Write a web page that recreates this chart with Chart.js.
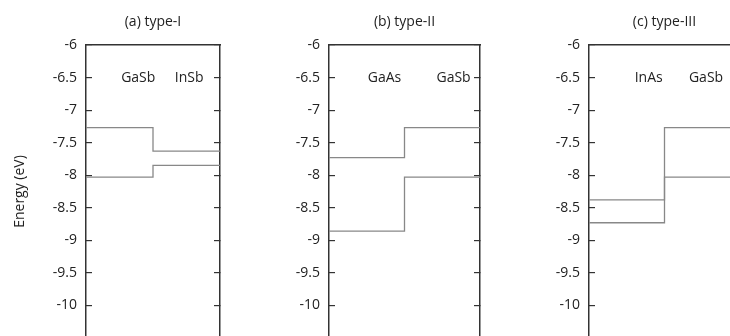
<!DOCTYPE html>
<html>
<head>
<meta charset="utf-8">
<script src="https://cdn.jsdelivr.net/npm/chart.js@4/dist/chart.umd.min.js"></script>
<style>
  html, body { margin: 0; padding: 0; background: #fff; }
  body { width: 730px; height: 336px; overflow: hidden; position: relative; }
  canvas { position: absolute; top: 0; }
</style>
</head>
<body>
<canvas id="panelA"></canvas>
<canvas id="panelB"></canvas>
<canvas id="panelC"></canvas>
<script>
'use strict';

// band edges (eV)
const panelTitles = ['(a) type-I', '(b) type-II', '(c) type-III'];
const leftMaterial = ['GaSb', 'GaAs', 'InAs'];
const rightMaterial = ['InSb', 'GaSb', 'GaSb'];
const leftUpper = [-7.27, -7.73, -8.38];
const rightUpper = [-7.63, -7.27, -7.27];
const leftLower = [-8.03, -8.86, -8.73];
const rightLower = [-7.85, -8.03, -8.03];
const yMax = -6;
const yMin = -10.5;
const yStep = 0.5;


// where each panel sits on the page
const panels = [
    { id: 'panelA', left: 0,   axisW: 86, plotW: 134, labelX: [0.78, 1.54], yTitle: true },
    { id: 'panelB', left: 240, axisW: 89, plotW: 151, labelX: [0.735, 1.65], yTitle: false },
    { id: 'panelC', left: 500, axisW: 89, plotW: 151, labelX: [0.79, 1.55], yTitle: false },
];

const FONT = "'Open Sans', sans-serif";
const TEXT = '#222';
const FRAME = '#333';
const LINE = '#888';

Chart.defaults.font.family = FONT;
Chart.defaults.font.size = 14;
Chart.defaults.color = TEXT;


// material names inside the box
const materialLabels = {
    id: 'materialLabels',
    afterDatasetsDraw(chart, args, opts) {
        const { ctx, scales: { x, y } } = chart;
        ctx.save();
        ctx.font = '14px ' + FONT;
        ctx.fillStyle = TEXT;
        ctx.textAlign = 'center';
        ctx.textBaseline = 'middle';
        opts.items.forEach(it => {
            ctx.fillText(it.text, x.getPixelForValue(it.x), y.getPixelForValue(it.y));
        });
        ctx.restore();
    }
};


// fixed axis sizes, no extra room for end labels
function fixWidth(w) {
    return s => {
        s.width = w;
        s.paddingTop = 0;
        s.paddingBottom = 0;
    };
}


function makePanel(i) {
    const p = panels[i];
    const canvas = document.getElementById(p.id);
    canvas.width = p.axisW + p.plotW + 10;
    canvas.height = 338;
    canvas.style.left = p.left + 'px';

    const band = (a, b) => ({
        data: [{ x: 0, y: a }, { x: 2, y: b }],
        stepped: 'middle',
        borderColor: LINE,
        borderWidth: 1.3,
        pointRadius: 0,
        fill: false,
        yAxisID: 'y'
    });

    new Chart(canvas.getContext('2d'), {
        type: 'line',
        data: {
            datasets: [
                band(leftUpper[i], rightUpper[i]),
                band(leftLower[i], rightLower[i])
            ]
        },
        options: {
            responsive: false,
            animation: false,
            devicePixelRatio: 1,
            layout: { padding: 0 },
            plugins: {
                legend: { display: false },
                tooltip: { enabled: false },
                materialLabels: {
                    items: [
                        { text: leftMaterial[i], x: p.labelX[0], y: -6.5 },
                        { text: rightMaterial[i], x: p.labelX[1], y: -6.5 }
                    ]
                }
            },
            scales: {
                x: {
                    type: 'linear',
                    position: 'top',
                    min: 0,
                    max: 2,
                    ticks: { display: false },
                    grid: { display: false },
                    border: { display: true, color: FRAME, width: 1.5 },
                    title: { display: true, text: panelTitles[i], padding: { top: 14, bottom: 0 } },
                    afterFit: s => { s.height = 45; s.paddingLeft = 0; s.paddingRight = 0; }
                },
                y: {
                    type: 'linear',
                    position: 'left',
                    min: yMin,
                    max: yMax,
                    ticks: {
                        stepSize: yStep,
                        padding: 15,
                        // bottom label falls off the picture
                        callback: v => v === yMin ? '' : String(v)
                    },
                    grid: { drawOnChartArea: false, drawTicks: true, tickLength: -6, color: FRAME, lineWidth: 1.2 },
                    border: { display: true, color: FRAME, width: 1.5 },
                    title: { display: p.yTitle, text: 'Energy (eV)', padding: { top: 12, bottom: 0 } },
                    afterFit: fixWidth(p.axisW)
                },
                y2: {
                    type: 'linear',
                    position: 'right',
                    min: yMin,
                    max: yMax,
                    ticks: { display: false, stepSize: yStep },
                    grid: { drawOnChartArea: false, drawTicks: true, tickLength: -6, color: FRAME, lineWidth: 1.2 },
                    border: { display: true, color: FRAME, width: 1.5 },
                    afterFit: fixWidth(10)
                }
            }
        },
        plugins: [materialLabels]
    });
}


document.addEventListener('DOMContentLoaded', () => {
    panels.forEach((p, i) => makePanel(i));
});
</script>
</body>
</html>
